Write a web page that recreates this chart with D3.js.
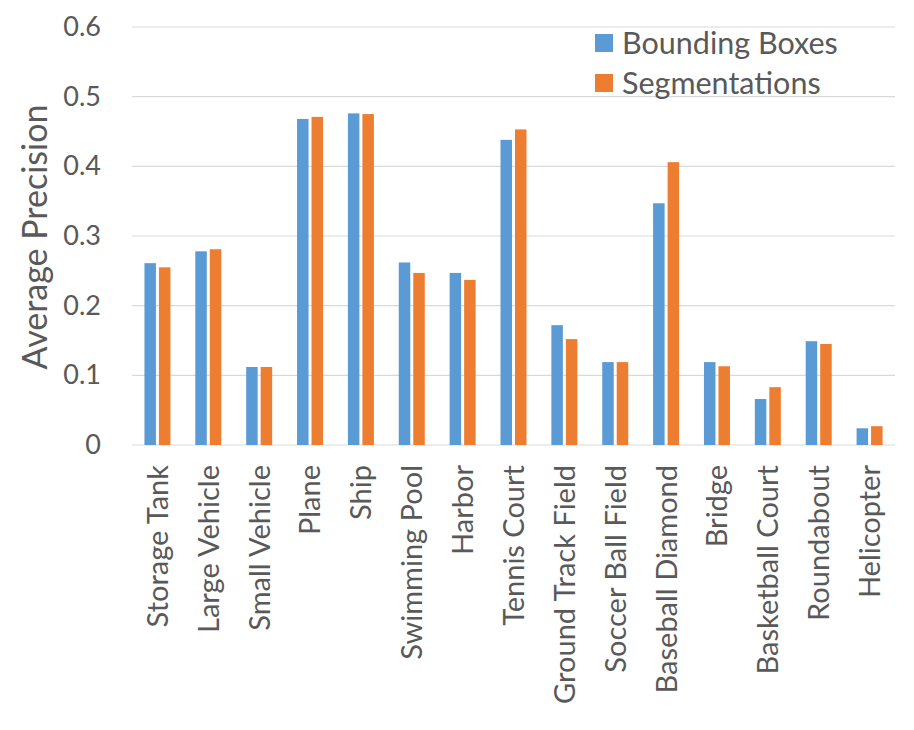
<!DOCTYPE html>
<html>
<head>
<meta charset="utf-8">
<script src="https://cdn.jsdelivr.net/npm/d3@7"></script>
<style>
  body { margin: 0; background: #fff; }
  svg text { font-family: Lato, "Open Sans", sans-serif; fill: #595959; }
</style>
</head>
<body>
<svg id="chart" width="914" height="730"></svg>
<script>
// categories and values
const categories = ["Storage Tank", "Large Vehicle", "Small Vehicle", "Plane", "Ship",
  "Swimming Pool", "Harbor", "Tennis Court", "Ground Track Field", "Soccer Ball Field",
  "Baseball Diamond", "Bridge", "Basketball Court", "Roundabout", "Helicopter"];
const bboxAP = [0.261, 0.278, 0.112, 0.468, 0.476, 0.262, 0.247, 0.438, 0.172, 0.119,
  0.347, 0.119, 0.066, 0.149, 0.024];
const segmAP = [0.255, 0.281, 0.112, 0.471, 0.475, 0.247, 0.237, 0.453, 0.152, 0.119,
  0.406, 0.113, 0.083, 0.145, 0.027];
const seriesNames = ["Bounding Boxes", "Segmentations"];
const yTicks = [0, 0.1, 0.2, 0.3, 0.4, 0.5, 0.6];

const colors = ["#5B9BD5", "#ED7D31"];
const svg = d3.select("#chart");
const margin = {left: 132, right: 19, top: 27, bottom: 285};
const W = 914, H = 730;
const innerW = W - margin.left - margin.right;
const innerH = H - margin.top - margin.bottom;

const g = svg.append("g").attr("transform", `translate(${margin.left},${margin.top})`);

const x = d3.scaleBand().domain(categories).range([0, innerW]);
const y = d3.scaleLinear().domain([0, 0.6]).range([innerH, 0]);
const barW = 11.5, gap = 3;
const xs = d3.scaleOrdinal().domain([0, 1]).range([
  x.bandwidth() / 2 - gap / 2 - barW,
  x.bandwidth() / 2 + gap / 2
]);

// gridlines
g.append("g").selectAll("line")
  .data(yTicks)
  .enter().append("line")
    .attr("x1", 0).attr("x2", innerW)
    .attr("y1", d => y(d)).attr("y2", d => y(d))
    .attr("stroke", "#d9d9d9")
    .attr("stroke-width", 1.2);

// y axis labels
const yAxis = g.append("g").call(d3.axisLeft(y).tickValues(yTicks)
  .tickFormat(d => d === 0 ? "0" : d3.format(".1f")(d)).tickSize(0).tickPadding(31));
yAxis.select(".domain").remove();
yAxis.selectAll("text").style("font-size", "27px").attr("fill", "#595959");

// bars
const series = [bboxAP, segmAP];
series.forEach(function(vals, s){
  g.append("g").selectAll("rect")
    .data(vals)
    .enter().append("rect")
      .attr("x", (d, i) => x(categories[i]) + xs(s))
      .attr("y", d => y(d))
      .attr("width", barW)
      .attr("height", d => innerH - y(d))
      .attr("fill", colors[s]);
});

// x axis
const xAxis = g.append("g")
  .attr("transform", `translate(0,${innerH})`)
  .call(d3.axisBottom(x).tickSize(0).tickPadding(0));
xAxis.select(".domain").remove();
xAxis.selectAll("text")
  .style("font-size", "29px")
  .attr("fill", "#595959")
  .attr("text-anchor", "end")
  .attr("dy", "0.36em")
  .attr("transform", "translate(0,20) rotate(-90)");

// y title
svg.append("text")
  .attr("transform", `translate(47,237) rotate(-90)`)
  .attr("text-anchor", "middle")
  .style("font-size", "34px")
  .text("Average Precision");

// legend
const legend = svg.append("g").attr("transform", "translate(595,34)");
seriesNames.forEach(function(name, i){
  legend.append("rect")
    .attr("x", 0).attr("y", i * 40)
    .attr("width", 18).attr("height", 18)
    .attr("fill", colors[i]);
  legend.append("text")
    .attr("x", 27).attr("y", i * 40 + 9)
    .attr("dy", "0.36em")
    .style("font-size", "30.5px")
    .text(name);
});
</script>
</body>
</html>
